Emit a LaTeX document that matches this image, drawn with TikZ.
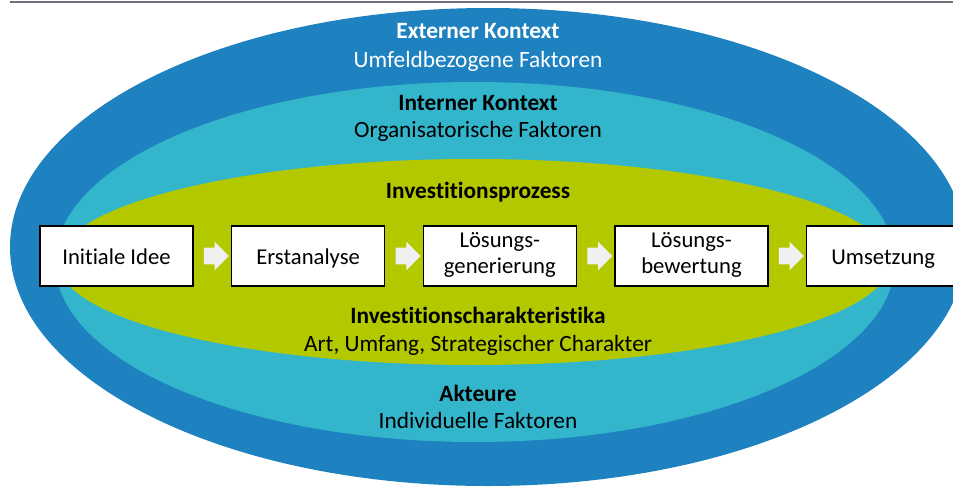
\documentclass[tikz,border=0pt]{standalone}
\usepackage{fontspec}
\setmainfont[Ligatures=NoCommon]{Carlito}
\usetikzlibrary{positioning,shapes.arrows}
\definecolor{outerblue}{HTML}{1F82C0}
\definecolor{innercyan}{HTML}{33B6CB}
\definecolor{processgreen}{HTML}{B4C800}
\definecolor{flowgray}{HTML}{F0F0F0}
\definecolor{rulegray}{HTML}{6C717A}

\begin{document}
\begin{tikzpicture}[x=0.75pt, y=0.75pt,
  phase/.style={draw, line width=1.1pt, fill=white, align=center,
    minimum width=114.75pt, minimum height=45pt, inner sep=0pt,
    font=\fontsize{17}{19.5}\selectfont,
    execute at begin node={\rule[-4pt]{0pt}{20pt}}},
  flow/.style={single arrow, fill=flowgray, inner xsep=0pt, inner ysep=6pt,
    minimum height=18.75pt,
    single arrow head extend=4.5pt, single arrow head indent=0pt},
  ringhead/.style={anchor=base, font=\fontsize{17.5}{20}\selectfont\bfseries},
  ringtext/.style={anchor=base, font=\fontsize{17.5}{20}\selectfont},
  node distance=27.9pt
]
\useasboundingbox (0,0) rectangle (953,487);
\draw[rulegray, line width=1.5pt] (10,485.3) -- (953,485.3);

% nested context ellipses
\fill[outerblue] (488,240) ellipse [x radius=478, y radius=239];
\fill[innercyan] (475,225) ellipse [x radius=420, y radius=180];
\fill[processgreen] (474,225) ellipse [x radius=416, y radius=103];

\node[ringhead, white] (extT) at (478,449) {Externer Kontext};
\node[ringtext, white] (extS) at (478,420) {Umfeldbezogene Faktoren};
\node[ringhead] (intT) at (478,377) {Interner Kontext};
\node[ringtext] (intS) at (478,350) {Organisatorische Faktoren};
\node[ringhead] (procT) at (478,289) {Investitionsprozess};
\node[ringhead] (charT) at (478,164) {Investitionscharakteristika};
\node[ringtext] (charS) at (478,136) {Art, Umfang, Strategischer Charakter};
\node[ringhead] (aktT) at (478,86) {Akteure};
\node[ringtext] (aktS) at (478,59) {Individuelle Faktoren};

% process phases
\node[phase] (idee) at (116.5,231) {Initiale Idee};
\node[phase, right=of idee] (analyse) {Erstanalyse};
\node[phase, right=of analyse] (generierung) {Lösungs-\\generierung};
\node[phase, right=of generierung] (bewertung) {Lösungs-\\bewertung};
\node[phase, right=of bewertung] (umsetzung) {Umsetzung};

\foreach \a/\b in {idee/analyse, analyse/generierung,
  generierung/bewertung, bewertung/umsetzung}
  \path (\a) -- (\b) node[midway, flow] (\a-\b) {};
\end{tikzpicture}
\end{document}
